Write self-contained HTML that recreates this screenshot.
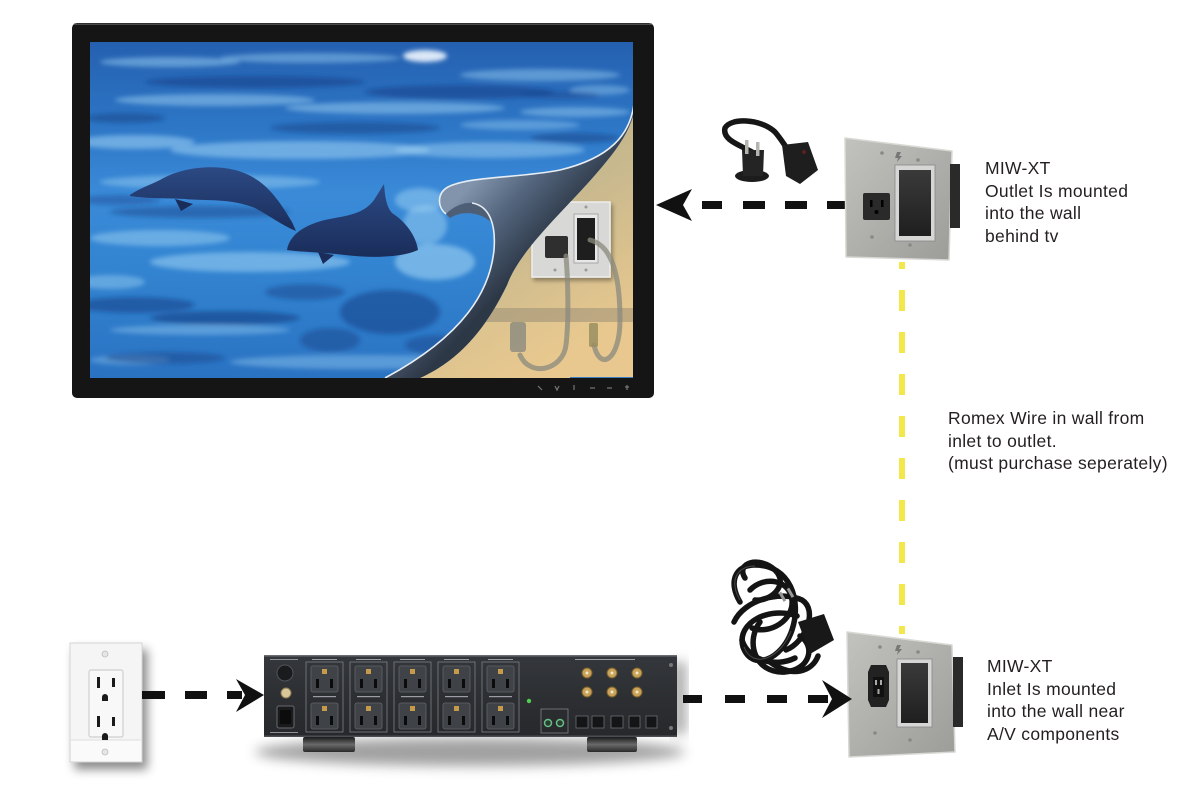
<!DOCTYPE html>
<html><head><meta charset="utf-8">
<style>
html,body{margin:0;padding:0;background:#fff;}
body{width:1200px;height:787px;position:relative;overflow:hidden;font-family:"Liberation Sans",Arial,sans-serif;}
svg{position:absolute;left:0;top:0;}
.t{position:absolute;font-size:17.5px;line-height:22.5px;color:#231f20;letter-spacing:0.3px;white-space:nowrap;}
</style></head><body>
<svg width="1200" height="787" viewBox="0 0 1200 787">
<defs>
  <clipPath id="scr"><rect x="90" y="42" width="543" height="336"/></clipPath>
  <filter id="bl3" x="-20%" y="-50%" width="140%" height="200%"><feGaussianBlur stdDeviation="2.5"/></filter>
  <filter id="bl6" x="-20%" y="-50%" width="140%" height="200%"><feGaussianBlur stdDeviation="6"/></filter>
  <filter id="ds" x="-20%" y="-20%" width="150%" height="150%"><feDropShadow dx="5" dy="7" stdDeviation="5" flood-color="#000" flood-opacity="0.45"/></filter>
  <filter id="ds2" x="-20%" y="-20%" width="150%" height="150%"><feDropShadow dx="2" dy="3" stdDeviation="2" flood-color="#000" flood-opacity="0.35"/></filter>
  <linearGradient id="water" x1="0" y1="0" x2="0" y2="1">
    <stop offset="0" stop-color="#2560b0"/><stop offset="0.25" stop-color="#2d76c6"/>
    <stop offset="0.45" stop-color="#3a8ad8"/><stop offset="0.65" stop-color="#3385d2"/>
    <stop offset="1" stop-color="#2a72c2"/>
  </linearGradient>
  <linearGradient id="tan" x1="0" y1="0" x2="0.5" y2="1">
    <stop offset="0" stop-color="#b7ab88"/><stop offset="0.55" stop-color="#c9b98e"/><stop offset="1" stop-color="#e6c78e"/>
  </linearGradient>
  <linearGradient id="flap" gradientUnits="userSpaceOnUse" x1="465" y1="190" x2="535" y2="255">
    <stop offset="0" stop-color="#8294ab"/><stop offset="0.45" stop-color="#53657d"/><stop offset="1" stop-color="#2d3847"/>
  </linearGradient>
  <linearGradient id="dol" x1="0" y1="0" x2="0" y2="1">
    <stop offset="0" stop-color="#2c4a84"/><stop offset="1" stop-color="#1a2d5a"/>
  </linearGradient>
  <linearGradient id="plate" x1="0" y1="0" x2="1" y2="1">
    <stop offset="0" stop-color="#c2c2be"/><stop offset="1" stop-color="#9c9c98"/>
  </linearGradient>
  <linearGradient id="blk" x1="0" y1="0" x2="0" y2="1">
    <stop offset="0" stop-color="#3a3a3a"/><stop offset="1" stop-color="#1f1f1f"/>
  </linearGradient>
  <linearGradient id="cond" x1="0" y1="0" x2="0" y2="1">
    <stop offset="0" stop-color="#34373b"/><stop offset="1" stop-color="#26282b"/>
  </linearGradient>
  <linearGradient id="foot" x1="0" y1="0" x2="0" y2="1">
    <stop offset="0" stop-color="#1a1a1a"/><stop offset="0.5" stop-color="#6a6a6a"/><stop offset="1" stop-color="#2a2a2a"/>
  </linearGradient>
</defs>

<!-- TV -->
<rect x="72" y="23" width="582" height="375" rx="5" fill="#151515"/>
<rect x="74" y="23.5" width="578" height="1.5" fill="#4a4a4a"/>
<g clip-path="url(#scr)">
  <rect x="90" y="42" width="543" height="336" fill="url(#water)"/>
  <g filter="url(#bl3)">
    <g fill="#9ed2f4">
      <ellipse cx="170" cy="62" rx="70" ry="5" opacity=".5"/>
      <ellipse cx="310" cy="58" rx="90" ry="5" opacity=".45"/>
      <ellipse cx="540" cy="75" rx="80" ry="6" opacity=".45"/>
      <ellipse cx="215" cy="100" rx="100" ry="6" opacity=".5"/>
      <ellipse cx="395" cy="108" rx="110" ry="6" opacity=".5"/>
      <ellipse cx="575" cy="112" rx="55" ry="5" opacity=".45"/>
      <ellipse cx="135" cy="142" rx="60" ry="7" opacity=".55"/>
      <ellipse cx="300" cy="150" rx="130" ry="9" opacity=".55"/>
      <ellipse cx="490" cy="150" rx="95" ry="8" opacity=".5"/>
      <ellipse cx="210" cy="182" rx="110" ry="7" opacity=".45"/>
      <ellipse cx="420" cy="200" rx="25" ry="12" opacity=".5"/>
      <ellipse cx="160" cy="238" rx="70" ry="8" opacity=".5"/>
      <ellipse cx="250" cy="262" rx="100" ry="10" opacity=".55"/>
      <ellipse cx="110" cy="282" rx="35" ry="7" opacity=".45"/>
      <ellipse cx="435" cy="262" rx="40" ry="18" opacity=".6"/>
      <ellipse cx="425" cy="225" rx="22" ry="20" opacity=".5"/>
      <ellipse cx="200" cy="330" rx="90" ry="5" opacity=".4"/>
      <ellipse cx="360" cy="362" rx="130" ry="7" opacity=".4"/>
      <ellipse cx="130" cy="360" rx="40" ry="5" opacity=".35"/>
      <ellipse cx="520" cy="125" rx="60" ry="5" opacity=".4"/>
      <ellipse cx="600" cy="90" rx="30" ry="5" opacity=".4"/>
    </g>
    <ellipse cx="425" cy="56" rx="22" ry="6" fill="#eef6ff" opacity=".9"/>
    <g fill="#163f86">
      <ellipse cx="255" cy="82" rx="110" ry="6" opacity=".55"/>
      <ellipse cx="460" cy="92" rx="95" ry="7" opacity=".55"/>
      <ellipse cx="125" cy="118" rx="40" ry="5" opacity=".5"/>
      <ellipse cx="355" cy="128" rx="85" ry="6" opacity=".5"/>
      <ellipse cx="575" cy="138" rx="45" ry="5" opacity=".5"/>
      <ellipse cx="120" cy="200" rx="40" ry="5" opacity=".4"/>
      <ellipse cx="200" cy="212" rx="90" ry="6" opacity=".45"/>
      <ellipse cx="135" cy="305" rx="60" ry="8" opacity=".55"/>
      <ellipse cx="225" cy="318" rx="75" ry="7" opacity=".6"/>
      <ellipse cx="390" cy="312" rx="50" ry="22" opacity=".55"/>
      <ellipse cx="305" cy="292" rx="40" ry="8" opacity=".45"/>
      <ellipse cx="165" cy="358" rx="60" ry="6" opacity=".45"/>
      <ellipse cx="440" cy="345" rx="35" ry="10" opacity=".45"/>
      <ellipse cx="330" cy="340" rx="30" ry="12" opacity=".45"/>
      <ellipse cx="560" cy="95" rx="40" ry="4" opacity=".4"/>
    </g>
  </g>
  <!-- dolphins -->
  <path d="M130 195 C140 188,150 185,160 180 C180 168,210 164,235 170 C262 177,276 195,292 222 L296 231 C283 226,270 216,255 208 C230 198,205 201,185 199 C170 198,150 199,130 196 Z" fill="url(#dol)"/>
  <path d="M175 199 L181 211 L193 204 Z" fill="#1a2d5a"/>
  <path d="M287 250 C290 232,310 222,335 218 C352 215,365 212,374 200 L384 184 C385 196,386 206,392 213 C406 222,416 236,418 250 C400 258,370 258,345 255 C320 252,300 252,287 250 Z" fill="url(#dol)"/>
  <path d="M318 252 L323 264 L334 255 Z" fill="#1a2d5a"/>
  <!-- tan wall -->
  <path d="M634 113 C628 135,615 152,595 175 C560 215,520 250,507 285 C490 320,465 358,420 378 L634 378 Z" fill="url(#tan)"/>
  <clipPath id="tanc"><path d="M634 113 C628 135,615 152,595 175 C560 215,520 250,507 285 C490 320,465 358,420 378 L634 378 Z"/></clipPath>
  <g clip-path="url(#tanc)">
    <rect x="400" y="308" width="240" height="14" fill="#8e8470" opacity=".45"/>
    <rect x="400" y="322" width="240" height="56" fill="#ecca92" opacity=".35"/>
  </g>
  <!-- small plate -->
  <rect x="532" y="202" width="78" height="75" fill="#d8d8d6" stroke="#eeeeee" stroke-width="1.5" filter="url(#ds2)"/>
  <rect x="545" y="236" width="23" height="22" rx="2" fill="#2f2f2f"/>
  <rect x="574" y="214" width="24" height="49" fill="#e8e8e8" stroke="#999" stroke-width=".8"/>
  <rect x="577" y="218" width="18" height="42" fill="#1e1e1e"/>
  <circle cx="562" cy="206" r="1.5" fill="#999"/><circle cx="586" cy="207" r="1.5" fill="#999"/>
  <circle cx="555" cy="270" r="1.5" fill="#999"/><circle cx="586" cy="270" r="1.5" fill="#999"/>
  <g fill="none" stroke="#8a8a7e" stroke-width="5" opacity=".75" stroke-linecap="round">
    <path d="M566 256 C568 280,569 320,566 345 C563 370,530 378,520 355"/>
    <path d="M590 240 C610 245,620 270,620 320 C620 360,600 372,594 345"/>
  </g>
  <rect x="510" y="322" width="16" height="30" rx="3" fill="#8a8a7e" opacity=".8"/>
  <rect x="589" y="323" width="9" height="24" rx="2" fill="#9a8e60" opacity=".85"/>
  <!-- curl flap -->
  <path d="M634 104 C630 135,610 158,560 170 C520 178,470 176,448 187 C437 193,437 207,446 214 C452 208,462 202,472 203 C490 206,496 225,494 250 C490 290,465 335,385 378 L420 378 C465 358,490 320,507 285 C520 250,560 215,595 175 C615 152,628 135,634 113 Z" fill="url(#flap)"/>
  <path d="M446 214 C452 208,462 202,472 203 C482 205,488 212,491 222 C480 212,462 210,450 218 Z" fill="#4e5f75"/>
  <g fill="none" stroke="#e6edf4" stroke-width="1.6">
    <path d="M634 104 C630 135,610 158,560 170 C520 178,470 176,448 187 C437 193,437 207,446 214"/>
    <path d="M472 203 C490 206,496 225,494 250 C490 290,465 335,385 378"/>
  </g>
  <rect x="570" y="377" width="63" height="1.5" fill="#3a7dc0"/>
</g>
<!-- bezel icons -->
<g stroke="#777" stroke-width="1.2" fill="none">
  <path d="M538 386 l4 4"/><path d="M555 386 l2 4 l2 -4"/><path d="M574 385 v5"/>
  <path d="M590 388 h5"/><path d="M607 388 h5"/><path d="M627 385 v5 M625 387 h4"/>
</g>

<!-- top arrow -->
<polygon points="656,205 692,189 683,205 692,221" fill="#111"/>
<g fill="#111">
  <rect x="702" y="201" width="20" height="8"/><rect x="743" y="201" width="22" height="8"/>
  <rect x="785" y="201" width="22" height="8"/><rect x="827" y="201" width="20" height="8"/>
</g>

<!-- top adapter cable -->
<g>
  <path d="M752 152 C740 145,722 140,725 128 C730 118,760 118,775 132 C782 140,786 148,790 152" fill="none" stroke="#161616" stroke-width="5.5" stroke-linecap="round"/>
  <ellipse cx="752" cy="176" rx="17" ry="6" fill="#1c1c1c"/>
  <path d="M742 150 L764 150 L763 176 L743 176 Z" fill="#242424"/>
  <rect x="745" y="140" width="3.5" height="14" fill="#b5b5b0"/>
  <rect x="756" y="142" width="3.5" height="14" fill="#b5b5b0"/>
  <path d="M782 145 L808 142 L818 170 L800 184 L786 176 Z" fill="#1e1e1e"/>
  <circle cx="804" cy="152" r="2" fill="#5a2020"/>
</g>

<!-- top plate -->
<g>
  <path d="M845 138 L952 151 L949 260 L846 257 Z" fill="url(#plate)" stroke="#d8d8d4" stroke-width="1.5" stroke-linejoin="round"/>
  <rect x="950" y="164" width="10" height="64" fill="#2a2a2a"/>
  <rect x="863" y="193" width="27" height="27" rx="2" fill="#2a2a2a"/>
  <rect x="870" y="200" width="2.5" height="7" fill="#000"/><rect x="881" y="200" width="2.5" height="7" fill="#000"/>
  <circle cx="876.5" cy="212" r="2" fill="#000"/>
  <rect x="895" y="165" width="40" height="76" fill="#d6d6d4" stroke="#888" stroke-width=".8"/>
  <rect x="899" y="170" width="32" height="66" fill="url(#blk)"/>
  <circle cx="882" cy="153" r="1.8" fill="#888"/><circle cx="918" cy="160" r="1.8" fill="#888"/>
  <circle cx="872" cy="237" r="1.8" fill="#888"/><circle cx="910" cy="245" r="1.8" fill="#888"/>
  <path d="M897 152 l4 0 l-2 4 l3 0 l-5 6 l1 -4 l-3 0 Z" fill="#777"/>
</g>

<!-- yellow romex -->
<line x1="902" y1="262" x2="902" y2="634" stroke="#f3e84b" stroke-width="6" stroke-dasharray="21 21" stroke-dashoffset="14"/>

<!-- bottom cord coil -->
<g fill="none" stroke="#141414" stroke-width="5.5" stroke-linecap="round">
  <path d="M745 578 C735 562,760 556,775 570 C790 585,770 602,755 600"/>
  <path d="M740 602 C728 582,735 565,755 565 C790 565,802 600,792 630 C782 660,752 672,743 647 C736 622,770 606,797 616"/>
  <path d="M760 622 C745 642,755 674,785 672 C810 670,816 646,800 636"/>
  <path d="M734 622 C744 600,780 590,802 600 C818 610,806 642,786 650"/>
  <path d="M770 662 C792 678,812 672,818 656"/>
  <path d="M750 590 C765 575,790 580,792 600 C794 620,770 635,752 628"/>
  <path d="M742 640 C748 660,775 668,795 658"/>
</g>
<g fill="none" stroke="#4a4a4a" stroke-width="1">
  <path d="M740 600 C729 582,736 566,755 566"/><path d="M791 631 C781 658,753 670,744 647"/>
</g>
<path d="M798 622 L824 614 L834 640 L810 654 Z" fill="#181818"/>
<rect x="781" y="592" width="3" height="10" fill="#999" transform="rotate(-30 782 597)"/>
<rect x="789" y="588" width="3" height="10" fill="#999" transform="rotate(-30 790 593)"/>

<!-- bottom plate -->
<g>
  <path d="M847 632 L952 645 L955 752 L849 757 Z" fill="url(#plate)" stroke="#d8d8d4" stroke-width="1.5" stroke-linejoin="round"/>
  <rect x="953" y="657" width="10" height="70" fill="#2a2a2a"/>
  <path d="M871 665 L886 665 L889 672 L889 700 L886 707 L871 707 L868 700 L868 672 Z" fill="#222"/>
  <rect x="873" y="677" width="11" height="20" fill="#111"/>
  <rect x="875" y="680" width="2" height="5" fill="#aaa"/><rect x="880" y="680" width="2" height="5" fill="#aaa"/><rect x="877.5" y="689" width="2" height="5" fill="#aaa"/>
  <rect x="897" y="659" width="35" height="68" fill="#d6d6d4" stroke="#888" stroke-width=".8"/>
  <rect x="901" y="663" width="27" height="60" fill="url(#blk)"/>
  <circle cx="880" cy="647" r="1.8" fill="#888"/><circle cx="918" cy="652" r="1.8" fill="#888"/>
  <circle cx="875" cy="733" r="1.8" fill="#888"/><circle cx="910" cy="740" r="1.8" fill="#888"/>
  <path d="M897 645 l4 0 l-2 4 l3 0 l-5 6 l1 -4 l-3 0 Z" fill="#777"/>
</g>

<!-- wall outlet -->
<g filter="url(#ds)">
  <rect x="70" y="643" width="72" height="119" fill="#f5f5f5" stroke="#d5d5d5" stroke-width="1"/>
</g>
<rect x="71" y="740" width="70" height="21" fill="#fafafa"/>
<line x1="71" y1="740" x2="141" y2="740" stroke="#ddd" stroke-width="1"/>
<rect x="89" y="670" width="34" height="67" rx="2" fill="#f8f8f8" stroke="#cfcfcf" stroke-width="1.2"/>
<circle cx="105" cy="654" r="3" fill="#e6e6e6" stroke="#bbb" stroke-width=".8"/>
<circle cx="105" cy="752" r="3" fill="#e6e6e6" stroke="#bbb" stroke-width=".8"/>
<g fill="#1a1a1a">
  <rect x="97" y="677" width="3" height="11"/><rect x="112" y="678" width="3" height="9"/>
  <path d="M102 697 a3 3 0 0 1 6 0 v4 h-6 Z"/>
  <rect x="97" y="716" width="3" height="11"/><rect x="112" y="717" width="3" height="9"/>
  <path d="M102 736 a3 3 0 0 1 6 0 v4 h-6 Z"/>
</g>

<!-- left arrow -->
<g fill="#111">
  <rect x="142" y="691" width="23" height="8"/><rect x="185" y="691" width="22" height="8"/>
  <rect x="227" y="691" width="15" height="8"/>
  <polygon points="264,695 236,679 245,695 236,712"/>
</g>

<!-- power conditioner -->
<ellipse cx="470" cy="752" rx="215" ry="14" fill="#555" opacity=".55" filter="url(#bl6)"/>
<rect x="672" y="662" width="14" height="72" fill="#555" opacity=".5" filter="url(#bl6)"/>
<rect x="303" y="737" width="52" height="15" rx="2" fill="url(#foot)"/>
<rect x="587" y="737" width="50" height="15" rx="2" fill="url(#foot)"/>
<rect x="264" y="655" width="413" height="82" fill="url(#cond)"/>
<rect x="264" y="655" width="413" height="1.5" fill="#6a6d72"/>
<rect x="264" y="735.5" width="413" height="1.5" fill="#4a4d52"/>
<circle cx="285" cy="673" r="8" fill="#1a1b1d" stroke="#50535a" stroke-width="1"/>
<circle cx="286" cy="693" r="5" fill="#d9c79a" stroke="#8a7a50" stroke-width="1"/>
<rect x="277" y="706" width="17" height="22" rx="2" fill="#1a1b1d" stroke="#66696e" stroke-width="1"/>
<rect x="280" y="710" width="11" height="14" fill="#0c0c0c"/>
<g fill="#8d9096"><rect x="270" y="659" width="28" height="1"/><rect x="270" y="732" width="28" height="1"/></g>
<g stroke="#7d8086" stroke-width=".8" fill="none">
  <rect x="306" y="662" width="37" height="70"/><rect x="350" y="662" width="37" height="70"/>
  <rect x="394" y="662" width="37" height="70"/><rect x="438" y="662" width="37" height="70"/>
  <rect x="482" y="662" width="37" height="70"/>
</g>
<g>
  <g fill="#3f4348" stroke="#60646a" stroke-width=".8">
    <rect x="311" y="666" width="27" height="26" rx="2"/><rect x="311" y="703" width="27" height="26" rx="2"/>
    <rect x="355" y="666" width="27" height="26" rx="2"/><rect x="355" y="703" width="27" height="26" rx="2"/>
    <rect x="399" y="666" width="27" height="26" rx="2"/><rect x="399" y="703" width="27" height="26" rx="2"/>
    <rect x="443" y="666" width="27" height="26" rx="2"/><rect x="443" y="703" width="27" height="26" rx="2"/>
    <rect x="487" y="666" width="27" height="26" rx="2"/><rect x="487" y="703" width="27" height="26" rx="2"/>
  </g>
  <g fill="#0b0b0b">
    <rect x="316" y="679" width="3" height="9"/><rect x="330" y="679" width="3" height="9"/>
    <rect x="316" y="716" width="3" height="9"/><rect x="330" y="716" width="3" height="9"/>
    <rect x="360" y="679" width="3" height="9"/><rect x="374" y="679" width="3" height="9"/>
    <rect x="360" y="716" width="3" height="9"/><rect x="374" y="716" width="3" height="9"/>
    <rect x="404" y="679" width="3" height="9"/><rect x="418" y="679" width="3" height="9"/>
    <rect x="404" y="716" width="3" height="9"/><rect x="418" y="716" width="3" height="9"/>
    <rect x="448" y="679" width="3" height="9"/><rect x="462" y="679" width="3" height="9"/>
    <rect x="448" y="716" width="3" height="9"/><rect x="462" y="716" width="3" height="9"/>
    <rect x="492" y="679" width="3" height="9"/><rect x="506" y="679" width="3" height="9"/>
    <rect x="492" y="716" width="3" height="9"/><rect x="506" y="716" width="3" height="9"/>
  </g>
  <g fill="#c59a4a">
    <rect x="322" y="669" width="5" height="5"/><rect x="322" y="706" width="5" height="5"/>
    <rect x="366" y="669" width="5" height="5"/><rect x="366" y="706" width="5" height="5"/>
    <rect x="410" y="669" width="5" height="5"/><rect x="410" y="706" width="5" height="5"/>
    <rect x="454" y="669" width="5" height="5"/><rect x="454" y="706" width="5" height="5"/>
    <rect x="498" y="669" width="5" height="5"/><rect x="498" y="706" width="5" height="5"/>
  </g>
  <g fill="#9a9da3">
    <rect x="313" y="696" width="23" height="1.2"/><rect x="357" y="696" width="23" height="1.2"/>
    <rect x="401" y="696" width="23" height="1.2"/><rect x="445" y="696" width="23" height="1.2"/>
    <rect x="489" y="696" width="23" height="1.2"/>
    <rect x="312" y="659" width="25" height="1"/><rect x="356" y="659" width="25" height="1"/>
    <rect x="400" y="659" width="25" height="1"/><rect x="444" y="659" width="25" height="1"/>
    <rect x="488" y="659" width="25" height="1"/><rect x="575" y="659" width="60" height="1"/>
  </g>
</g>
<circle cx="529" cy="701" r="2.2" fill="#4ed04e"/>
<g fill="#c9a35a" stroke="#7a5f2a" stroke-width="1">
  <circle cx="587" cy="673" r="5"/><circle cx="612" cy="673" r="5"/><circle cx="637" cy="673" r="5"/>
  <circle cx="587" cy="692" r="5"/><circle cx="612" cy="692" r="5"/><circle cx="637" cy="692" r="5"/>
</g>
<g fill="#f0e6c8"><circle cx="587" cy="673" r="1.5"/><circle cx="612" cy="673" r="1.5"/><circle cx="637" cy="673" r="1.5"/>
<circle cx="587" cy="692" r="1.5"/><circle cx="612" cy="692" r="1.5"/><circle cx="637" cy="692" r="1.5"/></g>
<rect x="541" y="709" width="27" height="24" fill="none" stroke="#7d8086" stroke-width=".8"/>
<circle cx="548" cy="723" r="3.5" fill="#2c3a30" stroke="#66c08a" stroke-width="1.5"/>
<circle cx="560" cy="723" r="3.5" fill="#2c3a30" stroke="#66c08a" stroke-width="1.5"/>
<g fill="#141516" stroke="#6a6d72" stroke-width=".8">
  <rect x="576" y="716" width="12" height="12"/><rect x="592" y="716" width="12" height="12"/>
  <rect x="611" y="716" width="12" height="12"/><rect x="629" y="716" width="11" height="12"/>
  <rect x="646" y="716" width="11" height="12"/>
</g>
<circle cx="671" cy="665" r="2" fill="#777"/><circle cx="671" cy="728" r="2" fill="#777"/>

<!-- right-bottom arrow -->
<g fill="#111">
  <rect x="683" y="695" width="19" height="8"/><rect x="725" y="695" width="20" height="8"/>
  <rect x="767" y="695" width="20" height="8"/><rect x="808" y="695" width="20" height="8"/>
  <polygon points="852,699 822,680 832,699 822,718"/>
</g>
</svg>
<div class="t" style="left:985px;top:157px">MIW-XT<br>Outlet Is mounted<br>into the wall<br>behind tv</div>
<div class="t" style="left:948px;top:407px">Romex Wire in wall from<br>inlet to outlet.<br>(must purchase seperately)</div>
<div class="t" style="left:987px;top:655px">MIW-XT<br>Inlet Is mounted<br>into the wall near<br>A/V components</div>
</body></html>
